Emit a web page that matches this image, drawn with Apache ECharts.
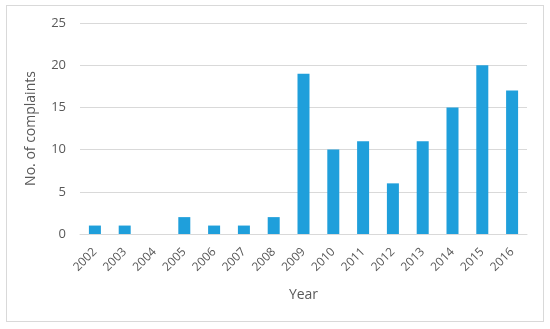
<!DOCTYPE html>
<html><head><meta charset="utf-8">
<script src="https://cdn.jsdelivr.net/npm/echarts@6/dist/echarts.min.js"></script>
<style>html,body{margin:0;padding:0;background:#fff}#c{width:550px;height:329px}
#frame{position:absolute;left:6px;top:5px;width:538px;height:317px;border:1px solid #d9d9d9;box-sizing:border-box;pointer-events:none}</style>
</head><body><div id="c"></div><div id="frame"></div>
<script>
const years = ['2002','2003','2004','2005','2006','2007','2008','2009','2010','2011','2012','2013','2014','2015','2016'];
const complaints = [1,1,0,2,1,1,2,19,10,11,6,11,15,20,17];
const yTicks = [0,5,10,15,20,25];
const font = 'Open Sans';
const chart = echarts.init(document.getElementById('c'));
chart.setOption({
  animation:false,
  grid:{left:80,right:23,top:23,bottom:95},
  xAxis:{type:'category',data:years,
    name:'Year',nameLocation:'middle',nameGap:54,
    nameTextStyle:{color:'#595959',fontSize:14,fontFamily:font},
    axisLine:{lineStyle:{color:'#d9d9d9'}},axisTick:{show:false},
    axisLabel:{rotate:45,color:'#595959',fontSize:12,fontFamily:font,margin:16,interval:0}},
  yAxis:{type:'value',min:yTicks[0],max:yTicks[yTicks.length-1],interval:5,
    name:'No. of complaints',nameLocation:'middle',nameGap:42,
    nameTextStyle:{color:'#595959',fontSize:14,fontFamily:font},
    axisLabel:{color:'#595959',fontSize:13,fontFamily:font,margin:14},
    axisLine:{show:false},axisTick:{show:false},
    splitLine:{lineStyle:{color:'#d9d9d9'}}},
  series:[{type:'bar',data:complaints,barWidth:12,itemStyle:{color:'#1f9fdb'}}]
});
</script></body></html>
